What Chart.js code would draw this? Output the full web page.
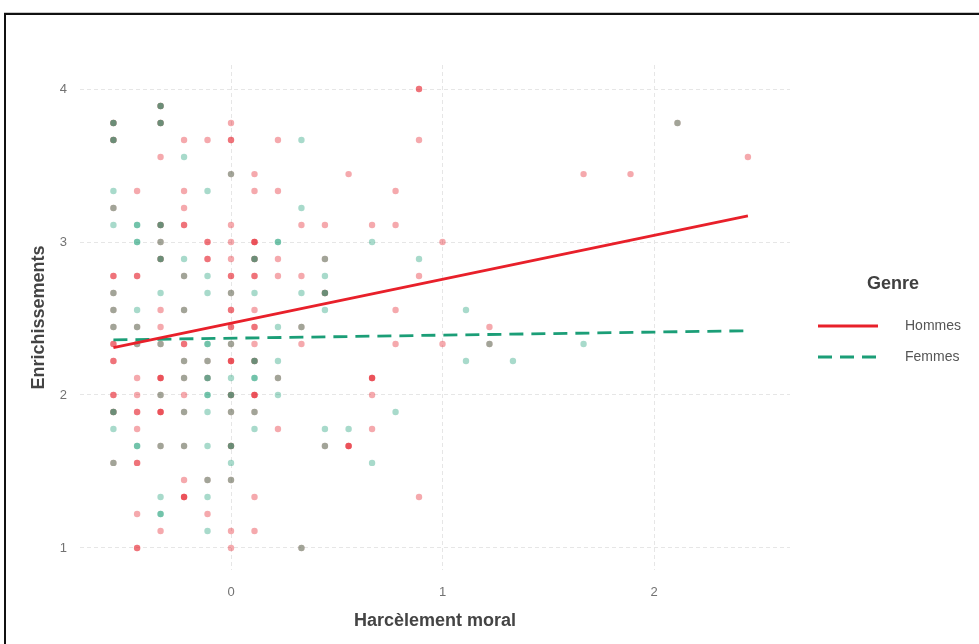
<!DOCTYPE html>
<html>
<head>
<meta charset="utf-8">
<script src="https://cdn.jsdelivr.net/npm/chart.js@4.4.1/dist/chart.umd.min.js"></script>
<style>
  html, body { margin: 0; padding: 0; background: #fff; }
  #frame { position: absolute; left: 4px; top: 13px; width: 1000px; height: 700px;
           border-left: 2px solid #111; border-top: 2px solid #111; box-shadow: 0 -1px 0 #c8c8c8; }
  #wrap { position: absolute; left: 0; top: 0; width: 979px; height: 644px; }
</style>
</head>
<body>
<div id="frame"></div>
<div id="wrap"><canvas id="scatterChart"></canvas></div>
<script>

// series names
var seriesNames = ["Hommes", "Femmes"];

// points: [harcelement, enrichissements, nb of overlapping obs]
var hommes = [
    [0.889, 4, 2],
    [-0.333, 3.889, 2],
    [-0.556, 3.778, 2], [-0.333, 3.778, 2], [0, 3.778, 1], [2.111, 3.778, 1],
    [-0.556, 3.667, 2], [-0.222, 3.667, 1], [-0.111, 3.667, 1], [0, 3.667, 2], [0.222, 3.667, 1], [0.889, 3.667, 1],
    [-0.333, 3.556, 1], [2.444, 3.556, 1],
    [0, 3.444, 1], [0.111, 3.444, 1], [0.556, 3.444, 1], [1.667, 3.444, 1], [1.889, 3.444, 1],
    [-0.444, 3.333, 1], [-0.222, 3.333, 1], [0.111, 3.333, 1], [0.222, 3.333, 1], [0.778, 3.333, 1],
    [-0.556, 3.222, 1], [-0.222, 3.222, 1],
    [-0.333, 3.111, 2], [-0.222, 3.111, 2], [0, 3.111, 1], [0.333, 3.111, 1], [0.444, 3.111, 1], [0.667, 3.111, 1], [0.778, 3.111, 1],
    [-0.333, 3, 1], [-0.111, 3, 2], [0, 3, 1], [0.111, 3, 3], [1, 3, 1],
    [-0.333, 2.889, 2], [-0.111, 2.889, 2], [0, 2.889, 1], [0.111, 2.889, 2], [0.222, 2.889, 1], [0.444, 2.889, 1],
    [-0.556, 2.778, 2], [-0.444, 2.778, 2], [-0.222, 2.778, 1], [0, 2.778, 2], [0.111, 2.778, 2], [0.222, 2.778, 1], [0.333, 2.778, 1], [0.889, 2.778, 1],
    [-0.556, 2.667, 1], [0, 2.667, 1], [0.444, 2.667, 2],
    [-0.556, 2.556, 1], [-0.333, 2.556, 1], [-0.222, 2.556, 1], [0, 2.556, 2], [0.111, 2.556, 1], [0.778, 2.556, 1],
    [-0.556, 2.444, 1], [-0.444, 2.444, 1], [-0.333, 2.444, 1], [0, 2.444, 2], [0.111, 2.444, 2], [0.333, 2.444, 1], [1.222, 2.444, 1],
    [-0.556, 2.333, 2], [-0.444, 2.333, 1], [-0.333, 2.333, 1], [-0.222, 2.333, 2], [0, 2.333, 1], [0.111, 2.333, 1], [0.333, 2.333, 1], [0.778, 2.333, 1], [1, 2.333, 1], [1.222, 2.333, 1],
    [-0.556, 2.222, 2], [-0.222, 2.222, 1], [-0.111, 2.222, 1], [0, 2.222, 3], [0.111, 2.222, 2],
    [-0.444, 2.111, 1], [-0.333, 2.111, 3], [-0.222, 2.111, 1], [-0.111, 2.111, 1], [0.222, 2.111, 1], [0.667, 2.111, 3],
    [-0.556, 2, 2], [-0.444, 2, 1], [-0.333, 2, 1], [-0.222, 2, 1], [0, 2, 2], [0.111, 2, 3], [0.667, 2, 1],
    [-0.556, 1.889, 2], [-0.444, 1.889, 2], [-0.333, 1.889, 3], [-0.222, 1.889, 1], [0, 1.889, 1], [0.111, 1.889, 1],
    [-0.444, 1.778, 1], [0.222, 1.778, 1], [0.667, 1.778, 1],
    [-0.333, 1.667, 1], [-0.222, 1.667, 1], [0, 1.667, 2], [0.444, 1.667, 1], [0.556, 1.667, 3],
    [-0.556, 1.556, 1], [-0.444, 1.556, 2],
    [-0.222, 1.444, 1], [-0.111, 1.444, 1], [0, 1.444, 1],
    [-0.222, 1.333, 3], [0.111, 1.333, 1], [0.889, 1.333, 1],
    [-0.444, 1.222, 1], [-0.111, 1.222, 1],
    [-0.333, 1.111, 1], [0, 1.111, 1], [0.111, 1.111, 1],
    [-0.444, 1, 2], [0, 1, 1], [0.333, 1, 1]
];

var femmes = [
    [-0.333, 3.889, 2],
    [-0.556, 3.778, 2], [-0.333, 3.778, 2], [2.111, 3.778, 1],
    [-0.556, 3.667, 2], [0.333, 3.667, 1],
    [-0.222, 3.556, 1],
    [0, 3.444, 1],
    [-0.556, 3.333, 1], [-0.111, 3.333, 1],
    [-0.556, 3.222, 1], [0.333, 3.222, 1],
    [-0.556, 3.111, 1], [-0.444, 3.111, 2], [-0.333, 3.111, 2],
    [-0.444, 3, 2], [-0.333, 3, 1], [0.222, 3, 2], [0.667, 3, 1],
    [-0.333, 2.889, 2], [-0.222, 2.889, 1], [0.111, 2.889, 2], [0.444, 2.889, 1], [0.889, 2.889, 1],
    [-0.222, 2.778, 1], [-0.111, 2.778, 1], [0.444, 2.778, 1],
    [-0.556, 2.667, 1], [-0.333, 2.667, 1], [-0.111, 2.667, 1], [0, 2.667, 1], [0.111, 2.667, 1], [0.333, 2.667, 1], [0.444, 2.667, 2],
    [-0.556, 2.556, 1], [-0.444, 2.556, 1], [-0.222, 2.556, 1], [0.444, 2.556, 1], [1.111, 2.556, 1],
    [-0.556, 2.444, 1], [-0.444, 2.444, 1], [0.222, 2.444, 1], [0.333, 2.444, 1],
    [-0.444, 2.333, 1], [-0.333, 2.333, 1], [-0.111, 2.333, 2], [0, 2.333, 1], [1.222, 2.333, 1], [1.667, 2.333, 1],
    [-0.222, 2.222, 1], [-0.111, 2.222, 1], [0.111, 2.222, 2], [0.222, 2.222, 1], [1.111, 2.222, 1], [1.333, 2.222, 1],
    [-0.222, 2.111, 1], [-0.111, 2.111, 2], [0, 2.111, 1], [0.111, 2.111, 2], [0.222, 2.111, 1],
    [-0.333, 2, 1], [-0.111, 2, 2], [0, 2, 2], [0.222, 2, 1],
    [-0.556, 1.889, 2], [-0.222, 1.889, 1], [-0.111, 1.889, 1], [0, 1.889, 1], [0.111, 1.889, 1], [0.778, 1.889, 1],
    [-0.556, 1.778, 1], [0.111, 1.778, 1], [0.444, 1.778, 1], [0.556, 1.778, 1],
    [-0.444, 1.667, 2], [-0.333, 1.667, 1], [-0.222, 1.667, 1], [-0.111, 1.667, 1], [0, 1.667, 2], [0.444, 1.667, 1],
    [-0.556, 1.556, 1], [0, 1.556, 1], [0.667, 1.556, 1],
    [-0.111, 1.444, 1], [0, 1.444, 1],
    [-0.333, 1.333, 1], [-0.111, 1.333, 1],
    [-0.333, 1.222, 2],
    [-0.111, 1.111, 1],
    [0.333, 1, 1]
];

// regression lines (start / end)
var hommesFitX = [-0.556, 2.444];
var hommesFitY = [2.31, 3.17];
var femmesFitX = [-0.556, 2.444];
var femmesFitY = [2.36, 2.42];

// ticks
var xTicks = [0, 1, 2];
var yTicks = [1, 2, 3, 4];

var redLine = '#e8202a';
var tealLine = '#1b9e77';
var dashLine = [14, 8];

function expand(list) {
    var out = [];
    list.forEach(function (p) {
        for (var i = 0; i < p[2]; i++) out.push({x: p[0], y: p[1]});
    });
    return out;
}

function fitPoints(xs, ys) {
    return xs.map(function (x, i) { return {x: x, y: ys[i]}; });
}

var genreLegend = {
    id: 'genreLegend',
    afterDraw: function (chart) {
        var ctx = chart.ctx;
        ctx.save();
        ctx.fillStyle = '#404040';
        ctx.font = 'bold 18px "Liberation Sans"';
        ctx.textAlign = 'center';
        ctx.textBaseline = 'middle';
        ctx.fillText('Genre', 893, 284);

        var colors = [redLine, tealLine];
        var dashes = [[], dashLine];
        var rows = [326, 357];
        ctx.lineWidth = 2.8;
        for (var i = 0; i < seriesNames.length; i++) {
            ctx.strokeStyle = colors[i];
            ctx.setLineDash(dashes[i]);
            ctx.beginPath();
            ctx.moveTo(818, rows[i]);
            ctx.lineTo(878, rows[i]);
            ctx.stroke();
            ctx.fillStyle = '#555';
            ctx.font = '14px "Liberation Sans"';
            ctx.textAlign = 'left';
            ctx.fillText(seriesNames[i], 905, rows[i]);
        }
        ctx.restore();
    }
};

var ctxS = document.getElementById("scatterChart").getContext('2d');
var myScatter = new Chart(ctxS, {
    type: 'scatter',
    data: {
        datasets: [
            {
                label: seriesNames[0] + ' fit',
                type: 'line',
                data: fitPoints(hommesFitX, hommesFitY),
                borderColor: redLine,
                borderWidth: 2.8,
                pointRadius: 0,
                fill: false,
                order: 0
            },
            {
                label: seriesNames[1] + ' fit',
                type: 'line',
                data: fitPoints(femmesFitX, femmesFitY),
                borderColor: tealLine,
                borderWidth: 2.8,
                borderDash: dashLine,
                pointRadius: 0,
                fill: false,
                order: 0
            },
            {
                label: seriesNames[1],
                data: expand(femmes),
                backgroundColor: 'rgba(27,158,119,0.38)',
                borderWidth: 0,
                pointRadius: 3.2,
                order: 1
            },
            {
                label: seriesNames[0],
                data: expand(hommes),
                backgroundColor: 'rgba(228,30,40,0.38)',
                borderWidth: 0,
                pointRadius: 3.2,
                order: 2
            }
        ]
    },
    options: {
        responsive: true,
        maintainAspectRatio: false,
        animation: false,
        layout: {
            padding: {left: 0, top: 65, right: 189, bottom: 0}
        },
        plugins: {
            legend: {display: false},
            tooltip: {enabled: false}
        },
        scales: {
            x: {
                type: 'linear',
                min: -0.714,
                max: 2.643,
                afterBuildTicks: function (s) { s.ticks = xTicks.map(function (v) { return {value: v}; }); },
                afterFit: function (s) { s.height = 74; },
                grid: {color: '#e6e6e6', lineWidth: 1, drawTicks: false},
                border: {display: false, dash: [4, 3]},
                ticks: {padding: 15, color: '#727272', font: {family: 'Liberation Sans', size: 13}},
                title: {
                    display: true,
                    text: 'Harcèlement moral',
                    color: '#444',
                    padding: {top: 0, bottom: 12},
                    font: {family: 'Liberation Sans', size: 18, weight: 'bold'}
                }
            },
            y: {
                type: 'linear',
                min: 0.856,
                max: 4.157,
                afterBuildTicks: function (s) { s.ticks = yTicks.map(function (v) { return {value: v}; }); },
                afterFit: function (s) { s.width = 80; },
                grid: {color: '#e6e6e6', lineWidth: 1, drawTicks: false},
                border: {display: false, dash: [4, 3]},
                ticks: {padding: 13, color: '#727272', font: {family: 'Liberation Sans', size: 13}},
                title: {
                    display: true,
                    text: 'Enrichissements',
                    color: '#444',
                    padding: {top: 28, bottom: 0},
                    font: {family: 'Liberation Sans', size: 18, weight: 'bold'}
                }
            }
        }
    },
    plugins: [genreLegend]
});

</script>
</body>
</html>
